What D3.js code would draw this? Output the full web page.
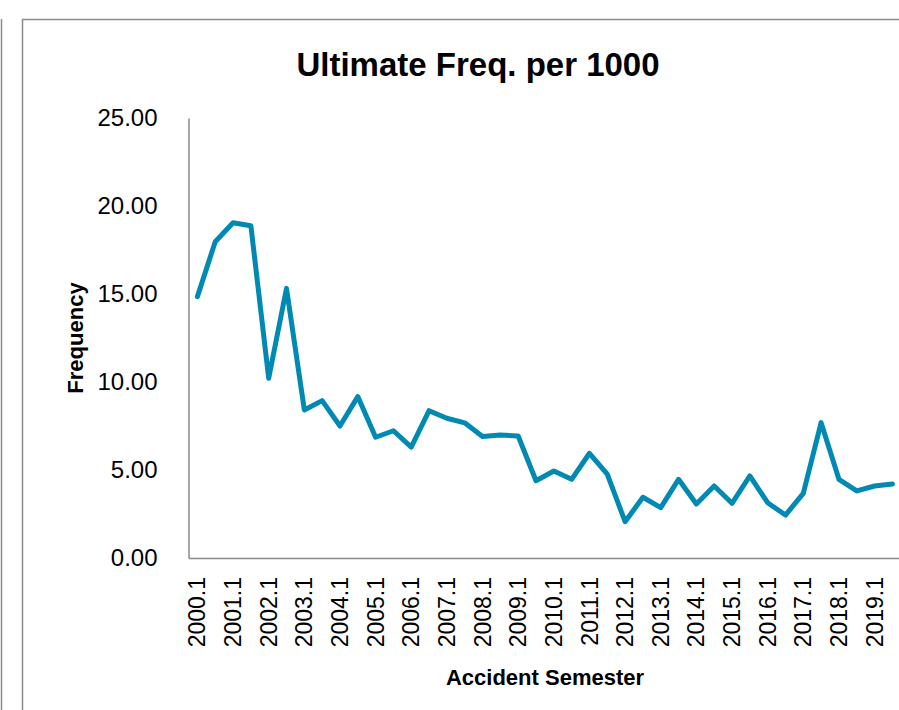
<!DOCTYPE html>
<html lang="en">
<head>
<meta charset="UTF-8">
<title>Ultimate Freq. per 1000</title>
<script src="https://d3js.org/d3.v7.min.js"></script>
<style>
  body { margin: 0; background: #fff; }
  svg { display: block; font-family: "Liberation Sans", Arial, sans-serif; }
</style>
</head>
<body>
<div id="chart"></div>
<script>
// semesters (x.1 = first half, x.2 = second half)
var semesters = [
  "2000.1","2000.2","2001.1","2001.2","2002.1","2002.2","2003.1","2003.2",
  "2004.1","2004.2","2005.1","2005.2","2006.1","2006.2","2007.1","2007.2",
  "2008.1","2008.2","2009.1","2009.2","2010.1","2010.2","2011.1","2011.2",
  "2012.1","2012.2","2013.1","2013.2","2014.1","2014.2","2015.1","2015.2",
  "2016.1","2016.2","2017.1","2017.2","2018.1","2018.2","2019.1","2019.2"
];
var frequency = [
  14.85, 17.97, 19.05, 18.88, 10.21, 15.32, 8.41, 8.94,
  7.50, 9.17, 6.86, 7.23, 6.30, 8.37, 7.94, 7.68,
  6.90, 6.99, 6.93, 4.39, 4.94, 4.47, 5.95, 4.77,
  2.06, 3.45, 2.86, 4.47, 3.07, 4.09, 3.11, 4.66,
  3.14, 2.44, 3.67, 7.69, 4.47, 3.81, 4.09, 4.20
];
var yTicks = [0, 5, 10, 15, 20, 25];

var W = 899, H = 710;
var svg = d3.select('#chart').append('svg')
  .attr('width', W).attr('height', H);

// outer frames
svg.append('line')
  .attr('x1', 1.5).attr('x2', 1.5).attr('y1', 19).attr('y2', H)
  .attr('stroke', '#8c8c8c').attr('stroke-width', 1.5);
svg.append('rect')
  .attr('x', 22.5).attr('y', 19.5).attr('width', 1000).attr('height', 1000)
  .attr('fill', '#fff').attr('stroke', '#8c8c8c').attr('stroke-width', 1.5);

var x = d3.scaleBand().domain(semesters).range([188.5, 901.3]);
var y = d3.scaleLinear().domain([0, 25]).range([558, 118]);

// y axis
var yAxis = svg.append('g')
  .attr('transform', 'translate(188.5,0)')
  .call(d3.axisLeft(y).tickValues(yTicks).tickFormat(d3.format('.2f')).tickSize(0).tickPadding(31));
yAxis.select('.domain').attr('stroke', '#888').attr('stroke-width', 1.5);
yAxis.selectAll('text').attr('font-size', 24).attr('fill', '#000')
  .attr('font-family', '"Liberation Sans", Arial, sans-serif');

// x axis
var xAxis = svg.append('g')
  .attr('transform', 'translate(0,558)')
  .call(d3.axisBottom(x)
    .tickValues(semesters.filter(function(d){ return d.slice(-1) === '1'; }))
    .tickSize(0));
xAxis.select('.domain').attr('stroke', '#888').attr('stroke-width', 1.5);
xAxis.selectAll('text')
  .attr('font-size', 23).attr('fill', '#000')
  .attr('font-family', '"Liberation Sans", Arial, sans-serif')
  .attr('transform', 'rotate(-90)')
  .attr('text-anchor', 'end')
  .attr('x', -19).attr('y', 0).attr('dy', '0.35em');

// line
var line = d3.line()
  .x(function(d, i){ return x(semesters[i]) + x.bandwidth() / 2; })
  .y(function(d){ return y(d); });
svg.append('path')
  .datum(frequency)
  .attr('d', line)
  .attr('fill', 'none')
  .attr('stroke', '#008ab3')
  .attr('stroke-width', 5)
  .attr('stroke-linejoin', 'round')
  .attr('stroke-linecap', 'round');

// titles
svg.append('text')
  .attr('x', 478).attr('y', 76)
  .attr('text-anchor', 'middle')
  .attr('font-size', 33).attr('font-weight', 'bold')
  .text('Ultimate Freq. per 1000');
svg.append('text')
  .attr('transform', 'translate(83,338) rotate(-90)')
  .attr('text-anchor', 'middle')
  .attr('font-size', 22).attr('font-weight', 'bold')
  .text('Frequency');
svg.append('text')
  .attr('x', 545).attr('y', 685)
  .attr('text-anchor', 'middle')
  .attr('font-size', 22).attr('font-weight', 'bold')
  .text('Accident Semester');
</script>
</body>
</html>
